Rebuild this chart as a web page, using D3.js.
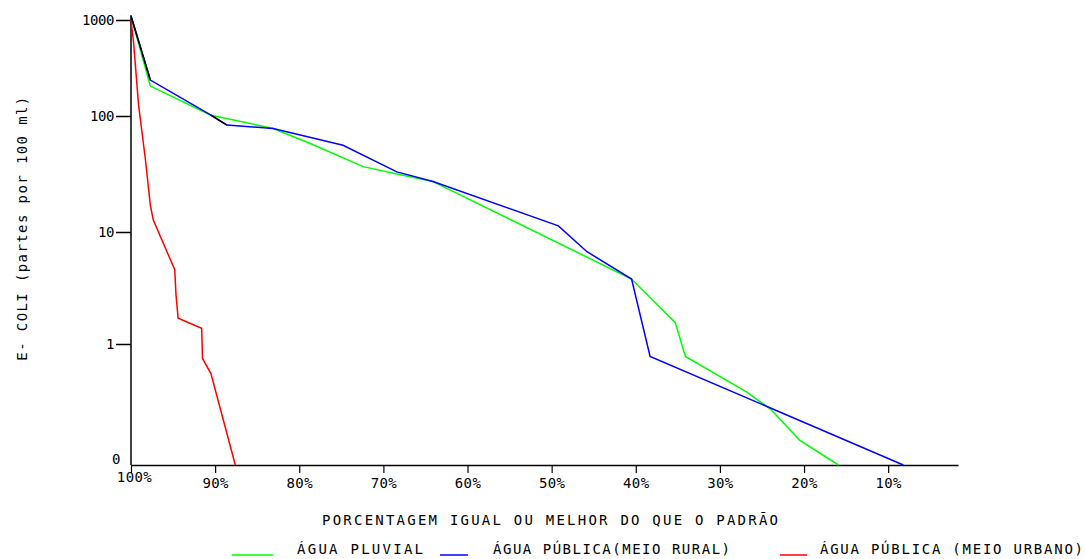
<!DOCTYPE html>
<html>
<head>
<meta charset="utf-8">
<script src="https://cdn.jsdelivr.net/npm/d3@7"></script>
<style>
  body { margin: 0; background: #fff; }
  text { font-family: "DejaVu Sans Mono", monospace; fill: #000; }
</style>
</head>
<body>
<svg width="1085" height="559"></svg>
<script>
// percentagem igual ou melhor do que o padrão (%) e E. coli (partes por 100 ml)
const pluvialPct = [100, 97.7, 90.5, 83.1, 78.7, 72.4, 68.4, 64.1, 40.5, 35.3, 34.1, 26.8, 24.0, 20.5, 15.9];
const pluvialVal = [1100, 205, 102, 78, 58, 36.6, 31.6, 27.2, 3.8, 1.55, 0.79, 0.40, 0.29, 0.16, 0];

const ruralPct = [100, 97.7, 90.5, 88.6, 83.1, 74.8, 68.4, 64.1, 49.2, 45.8, 40.5, 38.3, 8.2];
const ruralVal = [1100, 237, 102, 83.6, 78, 56, 33, 27.2, 11.3, 6.67, 3.8, 0.79, 0];
// trechos da série rural que aparecem em preto no original
const ruralBlackSegs = [0, 2];

const urbanoPct = [100, 99.7, 99.1, 98.3, 97.7, 97.35, 94.8, 94.65, 94.4, 91.6, 91.5, 90.5, 87.6];
const urbanoVal = [1000, 590, 130, 43, 17, 12.7, 4.6, 2.74, 1.7, 1.38, 0.76, 0.57, 0];

const xTicks = [100, 90, 80, 70, 60, 50, 40, 30, 20, 10];
const yTickPos = [-1, 0, 1, 2, 3];
const yTickLabels = ["0", "1", "10", "100", "1000"];

const legendNames = ["ÁGUA PLUVIAL", "ÁGUA PÚBLICA(MEIO RURAL)", "ÁGUA PÚBLICA (MEIO URBANO)"];
const colors = ["#00ff00", "#0000ff", "#ff0000"];

const svg = d3.select("svg");

const x = d3.scaleLinear().domain([100, 1.7]).range([131, 958]);
// eixo em décadas, não uniforme como no original
const yLog = d3.scaleLinear().domain(yTickPos).range([465, 344, 232, 116, 20]);
const toLog = v => v <= 0 ? -1 : Math.max(-1, Math.log10(v));

// eixo x
const xAxis = svg.append("g")
    .attr("transform", `translate(0,${yLog(-1)})`)
    .call(d3.axisBottom(x).tickValues(xTicks).tickFormat(d => d + "%").tickSize(8).tickSizeOuter(0));
xAxis.select(".domain").attr("stroke", "#000").attr("stroke-width", 1.5);
xAxis.selectAll(".tick line").attr("stroke", "#000").attr("stroke-width", 1.2);
xAxis.selectAll(".tick text")
    .attr("font-family", "DejaVu Sans Mono")
    .attr("font-size", 14)
    .attr("letter-spacing", 0.4)
    .attr("fill", "#000")
    .attr("dy", "0.85em")
    .filter(d => d === 100).attr("dy", "0.4em").attr("dx", 3);

// eixo y
const yAxis = svg.append("g")
    .attr("transform", "translate(131,0)")
    .call(d3.axisLeft(yLog).tickValues(yTickPos).tickFormat((d, i) => yTickLabels[i]).tickSize(15).tickSizeOuter(0));
yAxis.select(".domain").remove();
yAxis.selectAll(".tick line").attr("stroke", "#000").attr("stroke-width", 1.5);
yAxis.selectAll(".tick text")
    .attr("font-family", "DejaVu Sans Mono")
    .attr("font-size", 14)
    .attr("letter-spacing", -0.4)
    .attr("fill", "#000")
    .attr("x", -17);
yAxis.selectAll(".tick").filter(d => d === -1).select("line").remove();
yAxis.selectAll(".tick").filter(d => d === -1).select("text").attr("x", -11).attr("dy", "-0.1em");

svg.append("line")
    .attr("x1", 131).attr("x2", 131)
    .attr("y1", yLog(-1)).attr("y2", yLog(3.05))
    .attr("stroke", "#000")
    .attr("stroke-width", 1.5);

// títulos dos eixos
svg.append("text")
    .attr("transform", `translate(27,228) rotate(-90)`)
    .attr("text-anchor", "middle")
    .attr("font-size", 14)
    .attr("letter-spacing", 1.4)
    .text("E- COLI (partes por 100 ml)");

svg.append("text")
    .attr("x", 322)
    .attr("y", 525)
    .attr("font-size", 14)
    .attr("textLength", 456)
    .attr("lengthAdjust", "spacing")
    .text("PORCENTAGEM IGUAL OU MELHOR DO QUE O PADRÃO");

// linhas
const line = d3.line()
    .x(d => x(d[0]))
    .y(d => yLog(toLog(d[1])));

const series = [
    d3.zip(pluvialPct, pluvialVal),
    d3.zip(ruralPct, ruralVal),
    d3.zip(urbanoPct, urbanoVal)
];

series.forEach((s, i) => {
    svg.append("path")
        .datum(s)
        .attr("fill", "none")
        .attr("stroke", colors[i])
        .attr("stroke-width", 1.5)
        .attr("d", line);
});

ruralBlackSegs.forEach(k => {
    svg.append("path")
        .datum(series[1].slice(k, k + 2))
        .attr("fill", "none")
        .attr("stroke", "#000")
        .attr("stroke-width", 1.5)
        .attr("d", line);
});

// legenda
const legendLines = [[232, 273], [440, 468], [780, 807]];
const legendText = [[297, 126], [493, 237], [820, 263]];
legendNames.forEach((name, i) => {
    svg.append("line")
        .attr("x1", legendLines[i][0]).attr("x2", legendLines[i][1])
        .attr("y1", 555).attr("y2", 555)
        .attr("stroke", colors[i])
        .attr("stroke-width", 1.5);
    svg.append("text")
        .attr("x", legendText[i][0])
        .attr("y", 554)
        .attr("font-size", 14)
        .attr("textLength", legendText[i][1])
        .attr("lengthAdjust", "spacing")
        .text(name);
});
</script>
</body>
</html>
